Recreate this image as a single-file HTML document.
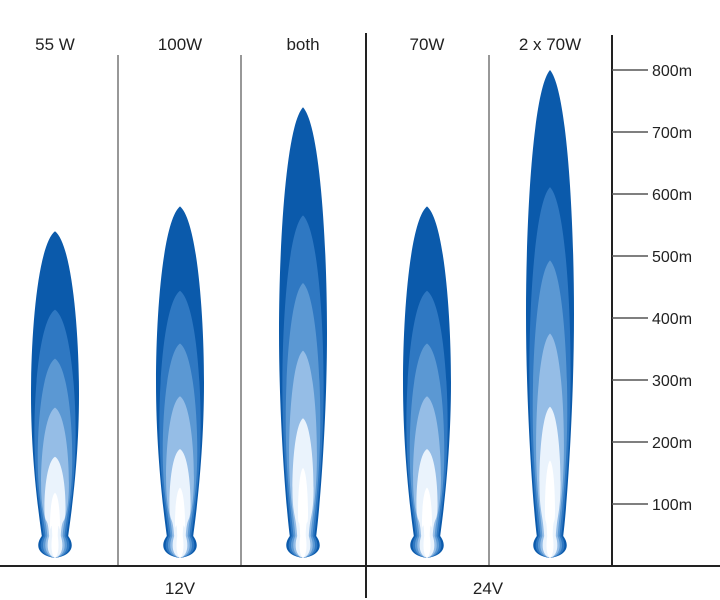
<!DOCTYPE html>
<html><head><meta charset="utf-8"><style>
body{margin:0;background:#fff}
svg{display:block;font-family:"Liberation Sans",sans-serif}
</style></head><body>
<svg id="chart" width="720" height="600" viewBox="0 0 720 600"></svg>
<script>
const lamps=["55 W","100W","both","70W","2 x 70W"];
const ranges=[540,580,740,580,800];
const tickValues=[100,200,300,400,500,600,700,800];
const tickLabels=["100m","200m","300m","400m","500m","600m","700m","800m"];
const groups=["12V","24V"];
const layerFractions=[1,0.76,0.61,0.46,0.31];

const NS="http://www.w3.org/2000/svg";
const svg=document.getElementById('chart');
const baseY=566, pxPer100=62;
const y=v=>baseY-v/100*pxPer100;
const centers=[55,180,303,427,550];
const colors=["#0b5aab","#2f78c2","#5b98d3","#95bde6","#eaf3fc"];
function mk(tag,attrs){const e=document.createElementNS(NS,tag);for(const k in attrs)e.setAttribute(k,attrs[k]);svg.appendChild(e);return e;}

[118,241,489].forEach((x,i)=>{const l=mk('line',{x1:x,y1:55,x2:x,y2:566,stroke:'#777','stroke-width':1.5});

});
const md=mk('line',{x1:366,y1:33,x2:366,y2:598,stroke:'#222','stroke-width':2});



function beamPath(cx,top,hw,full){
  const b=baseY-8;
  const h=b-top;
  // widest around 55% down; keep width down to near the neck
  const w1=hw, wL=hw*0.68, wN=hw*0.55, wB=hw*0.8;
  return `M${cx},${top} C${cx+w1*0.7},${top+h*0.04} ${cx+w1},${top+h*0.3} ${cx+w1},${top+h*0.5}`+
   ` C${cx+w1},${top+h*0.7} ${cx+wL},${b-45} ${cx+wN},${b-22}`+
   ` C${cx+wB},${b-14} ${cx+wB},${b-3} ${cx},${b}`+
   ` C${cx-wB},${b-3} ${cx-wB},${b-14} ${cx-wN},${b-22}`+
   ` C${cx-wL},${b-45} ${cx-w1},${top+h*0.7} ${cx-w1},${top+h*0.5}`+
   ` C${cx-w1},${top+h*0.3} ${cx-w1*0.7},${top+h*0.04} ${cx},${top} Z`;
}
const widthScale=[1,0.86,0.72,0.58,0.44];
lamps.forEach((name,i)=>{
  const cx=centers[i];
  const topY=y(ranges[i]);
  const h=baseY-8-topY;
  layerFractions.forEach((f,j)=>{
    const t=baseY-8-h*f;
    const p=mk('path',{d:beamPath(cx,t,24*widthScale[j]),fill:colors[j]});
    
    
  });
  const core=mk('path',{d:beamPath(cx,baseY-8-h*0.2,5),fill:'#ffffff'});
  
  
  const tx=mk('text',{x:cx,y:50,'text-anchor':'middle','font-size':17,fill:'#222'});
  tx.textContent=name;
  
  
});

const ax=mk('line',{x1:612,y1:35,x2:612,y2:566,stroke:'#222','stroke-width':2});


tickValues.forEach((v,i)=>{
  const tk=mk('line',{x1:612,y1:y(v),x2:648,y2:y(v),stroke:'#555','stroke-width':1.5});
  
  
  const t=mk('text',{x:652,y:y(v)+6,'font-size':16,fill:'#222'});
  t.textContent=tickLabels[i];
  
  
});
const bl=mk('line',{x1:0,y1:baseY,x2:720,y2:baseY,stroke:'#222','stroke-width':2});


[180,488].forEach((x,i)=>{
  const t=mk('text',{x:x,y:594,'text-anchor':'middle','font-size':17,fill:'#222'});
  t.textContent=groups[i];
  
  
});
</script>
</body></html>
